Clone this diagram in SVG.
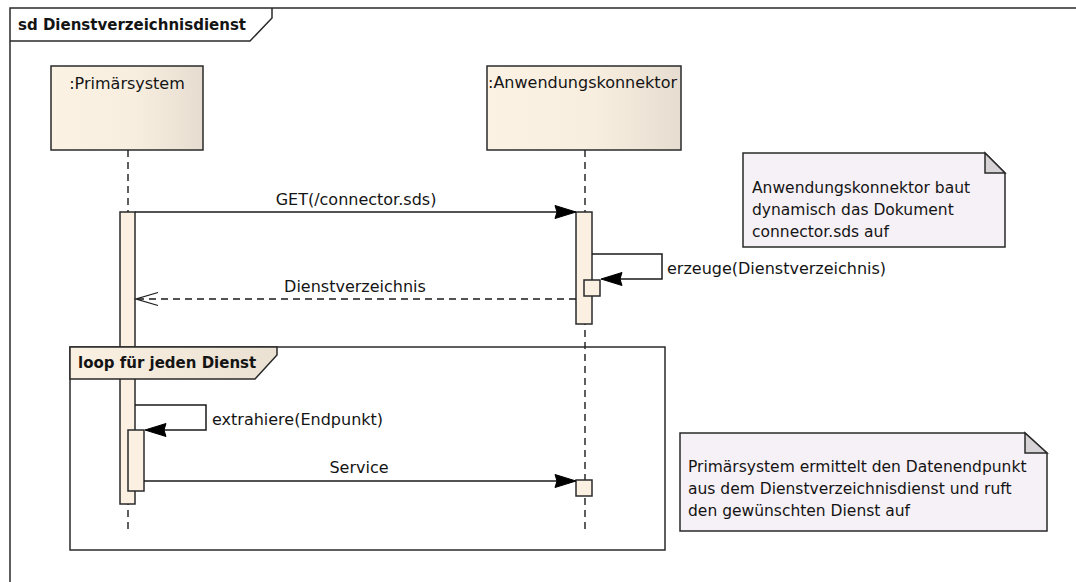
<svg xmlns="http://www.w3.org/2000/svg" width="1076" height="582" viewBox="0 0 1076 582">
  <defs>
    <linearGradient id="headFill" x1="0" y1="0" x2="1" y2="0">
      <stop offset="0" stop-color="#fcf2e4"/>
      <stop offset="0.55" stop-color="#f8eee0"/>
      <stop offset="1" stop-color="#e6ddd0"/>
    </linearGradient>
    <linearGradient id="tabFill" x1="0" y1="0" x2="1" y2="0">
      <stop offset="0" stop-color="#fbf1e3"/>
      <stop offset="1" stop-color="#ebe1d3"/>
    </linearGradient>
    <style>
      .txt { font-family: "DejaVu Sans", "Liberation Sans", sans-serif; font-size: 16px; fill: #141414; }
      .note-txt { font-family: "DejaVu Sans", "Liberation Sans", sans-serif; font-size: 15.5px; fill: #141414; }
      .bold { font-family: "DejaVu Sans", "Liberation Sans", sans-serif; font-size: 15px; font-weight: bold; fill: #141414; }
      .frame { fill: none; stroke: #2a2a2a; stroke-width: 1.5; }
      .head { fill: url(#headFill); stroke: #2a2a2a; stroke-width: 1.5; }
      .bar { fill: #fbf0e2; stroke: #2a2a2a; stroke-width: 1.5; }
      .lifeline { fill: none; stroke: #2a2a2a; stroke-width: 1.5; stroke-dasharray: 7 5; }
      .msg { fill: none; stroke: #1a1a1a; stroke-width: 1.5; }
      .ret { fill: none; stroke: #1a1a1a; stroke-width: 1.5; stroke-dasharray: 7 5; }
      .head-arrow { fill: #000; stroke: #000; stroke-width: 1; stroke-linejoin: miter; }
      .open-arrow { fill: none; stroke: #1a1a1a; stroke-width: 1.3; }
      .note { fill: #f6f1f6; stroke: #2a2a2a; stroke-width: 1.5; }
      .fold { fill: #d6d2d6; stroke: #2a2a2a; stroke-width: 1.5; }
    </style>
  </defs>

  <rect width="1076" height="582" fill="#ffffff"/>

  <!-- sequence diagram frame -->
  <g id="frame-sd">
    <path class="frame" d="M10,582 V8 H1076"/>
    <path class="frame" d="M10,41 H250 L272,18 V8"/>
    <text class="bold" x="18" y="30">sd Dienstverzeichnisdienst</text>
  </g>

  <!-- lifeline :Primärsystem -->
  <g id="primaersystem">
    <rect class="head" x="51" y="66" width="152" height="84"/>
    <text class="txt" x="127" y="89" text-anchor="middle">:Primärsystem</text>
    <line class="lifeline" x1="128" y1="150" x2="128" y2="530"/>
    <rect class="bar" x="120" y="212" width="15" height="292"/>
  </g>

  <!-- lifeline :Anwendungskonnektor -->
  <g id="anwendungskonnektor">
    <rect class="head" x="487" y="66" width="194" height="84"/>
    <text class="txt" x="488" y="88">:Anwendungskonnektor</text>
    <line class="lifeline" x1="585" y1="150" x2="585" y2="530"/>
    <rect class="bar" x="576" y="212" width="16" height="112"/>
    <rect class="bar" x="584" y="280" width="16" height="16"/>
    <rect class="bar" x="576" y="480" width="16" height="16"/>
  </g>

  <!-- combined fragment: loop -->
  <g id="loop-fragment">
    <rect class="frame" x="70" y="347" width="595" height="203"/>
    <path d="M70,347 H277 V355 L255,379 H70 Z" fill="url(#tabFill)" stroke="#2a2a2a" stroke-width="1.5"/>
    <text class="bold" x="78" y="368">loop für jeden Dienst</text>
  </g>

  <!-- nested activation for the self call inside the loop -->
  <g id="primaersystem-activation">
    <rect class="bar" x="128" y="430" width="16" height="61"/>
  </g>

  <!-- messages -->
  <g id="connectors">
    <line class="msg" x1="135" y1="212" x2="558" y2="212"/>
    <polygon class="head-arrow" points="576,212 555,205.5 557,212 555,218.5"/>
    <text class="txt" x="356" y="205" text-anchor="middle">GET(/connector.sds)</text>

    <path class="msg" d="M592,254 H662 V279 H620"/>
    <polygon class="head-arrow" points="601,279 622,272.5 620,279 622,285.5"/>
    <text class="txt" x="667" y="274">erzeuge(Dienstverzeichnis)</text>

    <line class="ret" x1="576" y1="299" x2="137" y2="299"/>
    <path class="open-arrow" d="M158,292.5 L136,299 L158,305.5"/>
    <text class="txt" x="355" y="292" text-anchor="middle">Dienstverzeichnis</text>

    <path class="msg" d="M135,405 H206 V430 H164"/>
    <polygon class="head-arrow" points="145,430 166,423.5 164,430 166,436.5"/>
    <text class="txt" x="212" y="425">extrahiere(Endpunkt)</text>

    <line class="msg" x1="144" y1="481" x2="558" y2="481"/>
    <polygon class="head-arrow" points="576,481 555,474.5 557,481 555,487.5"/>
    <text class="txt" x="359" y="473" text-anchor="middle">Service</text>
  </g>

  <!-- notes -->
  <g id="note-dokument">
    <path class="note" d="M743,153 H985 L1005,173 V247 H743 Z"/>
    <path class="fold" d="M985,153 V173 H1005 Z"/>
    <text class="note-txt" x="752" y="193">Anwendungskonnektor baut</text>
    <text class="note-txt" x="752" y="215">dynamisch das Dokument</text>
    <text class="note-txt" x="752" y="237">connector.sds auf</text>
  </g>

  <g id="note-datenendpunkt">
    <path class="note" d="M680,433 H1025 L1047,453 V531 H680 Z"/>
    <path class="fold" d="M1025,433 V453 H1047 Z"/>
    <text class="note-txt" x="688" y="472">Primärsystem ermittelt den Datenendpunkt</text>
    <text class="note-txt" x="688" y="494">aus dem Dienstverzeichnisdienst und ruft</text>
    <text class="note-txt" x="688" y="516">den gewünschten Dienst auf</text>
  </g>
</svg>
